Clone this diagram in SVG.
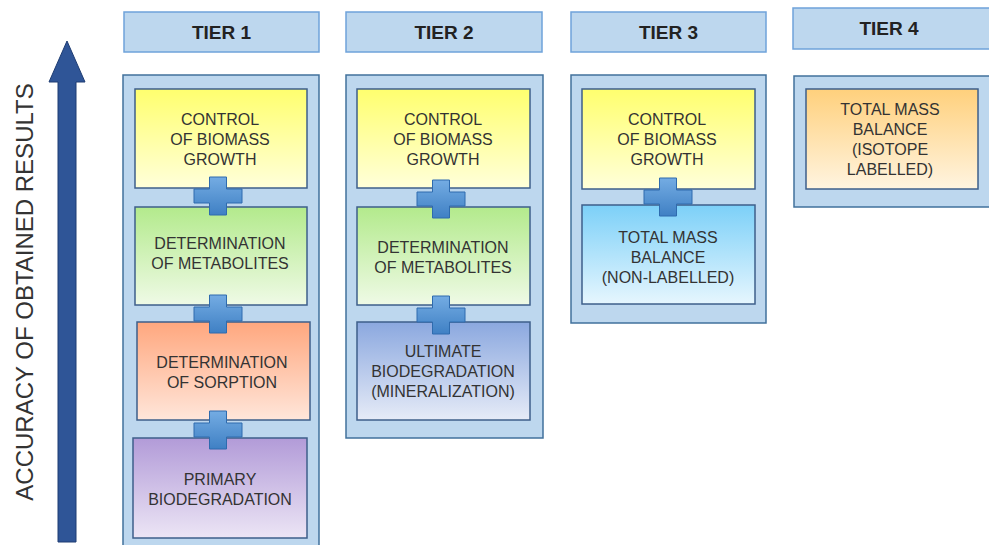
<svg xmlns="http://www.w3.org/2000/svg" xmlns:xlink="http://www.w3.org/1999/xlink" width="989" height="545" viewBox="0 0 989 545">
<style>
.hdr{fill:#BDD7EE;stroke:#6FA3DA;stroke-width:1.5}
.col{fill:#BDD7EE;stroke:#41719C;stroke-width:1.5}
.box{stroke:#3E5F8A;stroke-width:1.5}
.ht{font-family:"Liberation Sans",Arial,sans-serif;font-size:19px;font-weight:bold;fill:#222;text-anchor:middle}
.bt{font-family:"Liberation Sans",Arial,sans-serif;font-size:16px;fill:#333;text-anchor:middle}
.axis{font-family:"Liberation Sans",Arial,sans-serif;font-size:24px;fill:#333;text-anchor:middle}
.plus{fill:url(#gPlus);stroke:#2E6BAE;stroke-width:1}
</style>
<defs>
<linearGradient id="gY" x1="0" y1="0" x2="0" y2="1"><stop offset="0" stop-color="#FFFF6E"/><stop offset="1" stop-color="#FFFFDA"/></linearGradient>
<linearGradient id="gG" x1="0" y1="0" x2="0" y2="1"><stop offset="0" stop-color="#B3EA8C"/><stop offset="1" stop-color="#EFFAE6"/></linearGradient>
<linearGradient id="gO" x1="0" y1="0" x2="0" y2="1"><stop offset="0" stop-color="#FFA77E"/><stop offset="1" stop-color="#FFE6DA"/></linearGradient>
<linearGradient id="gP" x1="0" y1="0" x2="0" y2="1"><stop offset="0" stop-color="#B29BD8"/><stop offset="1" stop-color="#ECE5F5"/></linearGradient>
<linearGradient id="gB" x1="0" y1="0" x2="0" y2="1"><stop offset="0" stop-color="#8BA8DF"/><stop offset="1" stop-color="#E6EBF7"/></linearGradient>
<linearGradient id="gS" x1="0" y1="0" x2="0" y2="1"><stop offset="0" stop-color="#7CD0F8"/><stop offset="1" stop-color="#E6F6FE"/></linearGradient>
<linearGradient id="gT" x1="0" y1="0" x2="0" y2="1"><stop offset="0" stop-color="#FFD07C"/><stop offset="1" stop-color="#FFF4E0"/></linearGradient>
<linearGradient id="gPlus" x1="0" y1="0" x2="0" y2="1"><stop offset="0" stop-color="#74ACE3"/><stop offset="1" stop-color="#3F80C4"/></linearGradient>
<path id="plus" class="plus" d="M-8.5,-19 H8.5 V-7 H24 V7 H8.5 V19 H-8.5 V7 H-24 V-7 H-8.5 Z"/>
</defs>
<rect width="989" height="545" fill="#FFFFFF"/>

<g id="axis">
<path d="M58,542 V82 H49 L67,41 L85,82 H76 V542 Z" fill="#2F5597" stroke="#1F3D73" stroke-width="1"/>
<text class="axis" transform="translate(33,292) rotate(-90)">ACCURACY OF OBTAINED RESULTS</text>
</g>

<g id="tier1">
<rect class="hdr" x="124" y="12" width="195" height="40"/>
<text class="ht" x="221.5" y="39">TIER 1</text>
<rect class="col" x="123" y="75" width="196" height="475"/>
</g>
<g id="tier2">
<rect class="hdr" x="346" y="12" width="196" height="40"/>
<text class="ht" x="444" y="39">TIER 2</text>
<rect class="col" x="346" y="75" width="197" height="363"/>
</g>
<g id="tier3">
<rect class="hdr" x="571" y="12" width="195" height="40"/>
<text class="ht" x="668.5" y="39">TIER 3</text>
<rect class="col" x="571" y="75" width="195" height="248"/>
</g>
<g id="tier4">
<rect class="hdr" x="793" y="8" width="200" height="41"/>
<text class="ht" x="889" y="35">TIER 4</text>
<rect class="col" x="794" y="76" width="200" height="131"/>
</g>

<g id="t1-biomass">
<rect class="box" x="135" y="89" width="172" height="99" fill="url(#gY)"/>
<text class="bt" x="220" y="125">CONTROL</text>
<text class="bt" x="220" y="145">OF BIOMASS</text>
<text class="bt" x="220" y="165">GROWTH</text>
</g>
<g id="t1-metabolites">
<rect class="box" x="135" y="207" width="172" height="98" fill="url(#gG)"/>
<text class="bt" x="220" y="249">DETERMINATION</text>
<text class="bt" x="220" y="269">OF METABOLITES</text>
</g>
<g id="t1-sorption">
<rect class="box" x="137" y="322" width="173" height="98" fill="url(#gO)"/>
<text class="bt" x="222" y="368">DETERMINATION</text>
<text class="bt" x="222" y="388">OF SORPTION</text>
</g>
<g id="t1-primary">
<rect class="box" x="133" y="438" width="174" height="100" fill="url(#gP)"/>
<text class="bt" x="220" y="485">PRIMARY</text>
<text class="bt" x="220" y="505">BIODEGRADATION</text>
</g>

<g id="t2-biomass">
<rect class="box" x="357" y="89" width="173" height="99" fill="url(#gY)"/>
<text class="bt" x="443" y="125">CONTROL</text>
<text class="bt" x="443" y="145">OF BIOMASS</text>
<text class="bt" x="443" y="165">GROWTH</text>
</g>
<g id="t2-metabolites">
<rect class="box" x="357" y="207" width="173" height="98" fill="url(#gG)"/>
<text class="bt" x="443" y="253">DETERMINATION</text>
<text class="bt" x="443" y="273">OF METABOLITES</text>
</g>
<g id="t2-ultimate">
<rect class="box" x="357" y="322" width="173" height="98" fill="url(#gB)"/>
<text class="bt" x="443" y="357">ULTIMATE</text>
<text class="bt" x="443" y="377">BIODEGRADATION</text>
<text class="bt" x="443" y="397">(MINERALIZATION)</text>
</g>

<g id="t3-biomass">
<rect class="box" x="582" y="89" width="173" height="100" fill="url(#gY)"/>
<text class="bt" x="667" y="125">CONTROL</text>
<text class="bt" x="667" y="145">OF BIOMASS</text>
<text class="bt" x="667" y="165">GROWTH</text>
</g>
<g id="t3-massbalance">
<rect class="box" x="582" y="205" width="173" height="99" fill="url(#gS)"/>
<text class="bt" x="668" y="243">TOTAL MASS</text>
<text class="bt" x="668" y="263">BALANCE</text>
<text class="bt" x="668" y="283">(NON-LABELLED)</text>
</g>

<g id="t4-massbalance">
<rect class="box" x="806" y="89" width="172" height="100" fill="url(#gT)"/>
<text class="bt" x="890" y="115">TOTAL MASS</text>
<text class="bt" x="890" y="135">BALANCE</text>
<text class="bt" x="890" y="155">(ISOTOPE</text>
<text class="bt" x="890" y="175">LABELLED)</text>
</g>

<g id="connectors">
<use xlink:href="#plus" x="218" y="196"/>
<use xlink:href="#plus" x="218" y="314"/>
<use xlink:href="#plus" x="218" y="430"/>
<use xlink:href="#plus" x="441" y="199"/>
<use xlink:href="#plus" x="441" y="315"/>
<use xlink:href="#plus" x="668" y="197"/>
</g>
</svg>
